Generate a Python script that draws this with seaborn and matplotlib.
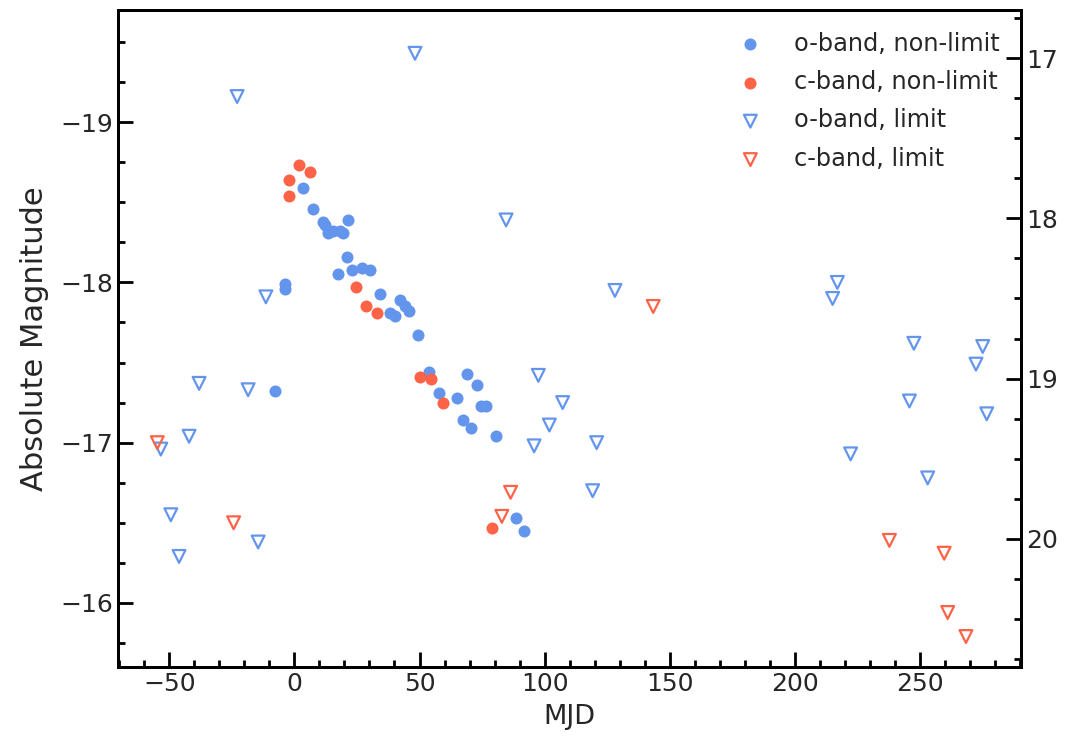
import matplotlib
matplotlib.use("Agg")
import matplotlib.pyplot as plt
import seaborn as sns
from matplotlib.ticker import MultipleLocator

# Light curve: days relative to peak and absolute magnitudes per ATLAS band
o_mjd = [3.6, 7.6, 11.6, 12.2, 13.5, 15.5, 18.2, 19.5, 21.5, 21.1, 22.9, 26.9,
         30.2, 17.5, -3.8, -3.8, 34.2, 38.2, 40.2, 42.2, 44.2, 45.9, 49.5, 53.9,
         57.9, 65.1, 69.1, 73.1, 74.5, 76.6, 67.3, 70.7, 80.5, 88.6, 91.8, -7.6]
o_mag = [-18.59, -18.46, -18.38, -18.36, -18.31, -18.32, -18.32, -18.31, -18.39,
         -18.16, -18.08, -18.09, -18.08, -18.05, -17.99, -17.96, -17.93, -17.81,
         -17.79, -17.89, -17.85, -17.82, -17.67, -17.44, -17.31, -17.28, -17.43,
         -17.36, -17.23, -17.23, -17.14, -17.09, -17.04, -16.53, -16.45, -17.32]

c_mjd = [2.0, 6.2, -2.0, -2.0, 24.6, 28.6, 32.9, 50.2, 54.5, 59.3, 78.9]
c_mag = [-18.73, -18.69, -18.64, -18.54, -17.97, -17.85, -17.81, -17.41, -17.40,
         -17.25, -16.47]

o_lim_mjd = [48.2, -22.9, 84.6, -11.4, 128.1, 217.0, 215.1, 247.6, 275.1, 272.4,
             245.8, 276.7, 107.2, 101.9, 120.8, 222.3, 253.1, 119.2, 97.5, 95.8,
             -38.1, -18.5, -42.1, -53.4, -49.4, -14.5, -46.1]
o_lim_mag = [-19.43, -19.16, -18.39, -17.91, -17.95, -18.00, -17.90, -17.62,
             -17.60, -17.49, -17.26, -17.18, -17.25, -17.11, -17.00, -16.93,
             -16.78, -16.70, -17.42, -16.98, -17.37, -17.33, -17.04, -16.96,
             -16.55, -16.38, -16.29]

c_lim_mjd = [-54.8, -24.3, 86.4, 82.9, 143.4, 237.8, 259.7, 261.1, 268.4]
c_lim_mag = [-17.00, -16.50, -16.69, -16.54, -17.85, -16.39, -16.31, -15.94, -15.79]

# distance modulus linking absolute and apparent magnitude
dist_mod = 36.4

BLUE = "cornflowerblue"
RED = "tomato"

sns.set_theme(style="ticks")
plt.rcParams["font.family"] = ["DejaVu Sans"]

fig = plt.figure(figsize=(10.69, 7.49), dpi=100)
ax = fig.add_axes([0.1104, 0.1095, 0.8447, 0.8771])

sns.scatterplot(x=o_mjd, y=o_mag, ax=ax, color=BLUE, s=75, linewidth=0,
                label="o-band, non-limit")
sns.scatterplot(x=c_mjd, y=c_mag, ax=ax, color=RED, s=75, linewidth=0,
                label="c-band, non-limit")
sns.scatterplot(x=o_lim_mjd, y=o_lim_mag, ax=ax, marker="v", s=85, color=BLUE,
                facecolor="none", edgecolor=BLUE, linewidth=1.6,
                label="o-band, limit")
sns.scatterplot(x=c_lim_mjd, y=c_lim_mag, ax=ax, marker="v", s=85, color=RED,
                facecolor="none", edgecolor=RED, linewidth=1.6,
                label="c-band, limit")

ax.set_xlim(-70.5, 290.4)
ax.set_ylim(-15.6, -19.7)
ax.set_xlabel("MJD", fontsize=19.5, labelpad=6)
ax.set_ylabel("Absolute Magnitude", fontsize=22, labelpad=8)

ax.xaxis.set_major_locator(MultipleLocator(50))
ax.xaxis.set_minor_locator(MultipleLocator(10))
ax.yaxis.set_major_locator(MultipleLocator(1))
ax.yaxis.set_minor_locator(MultipleLocator(0.25))
ax.tick_params(which="both", direction="in", top=False, right=False,
               width=2, labelsize=18, colors="black", labelcolor=".15")
ax.tick_params(which="major", length=11)
ax.tick_params(which="minor", length=5)
for sp in ax.spines.values():
    sp.set_linewidth(2.1)
    sp.set_color("black")

# apparent magnitude on the right
ax2 = ax.twinx()
lo, hi = ax.get_ylim()
ax2.set_ylim(lo + dist_mod, hi + dist_mod)
ax2.yaxis.set_major_locator(MultipleLocator(1))
ax2.yaxis.set_minor_locator(MultipleLocator(0.25))
ax2.tick_params(which="both", direction="in", width=2, labelsize=18,
                colors="black", labelcolor=".15")
ax2.tick_params(which="major", length=11)
ax2.tick_params(which="minor", length=5)
for sp in ax2.spines.values():
    sp.set_linewidth(2.1)
    sp.set_color("black")

ax.legend(loc="upper right", frameon=False, fontsize=17.3, labelspacing=0.6)

fig.savefig("out.png", dpi=100)
